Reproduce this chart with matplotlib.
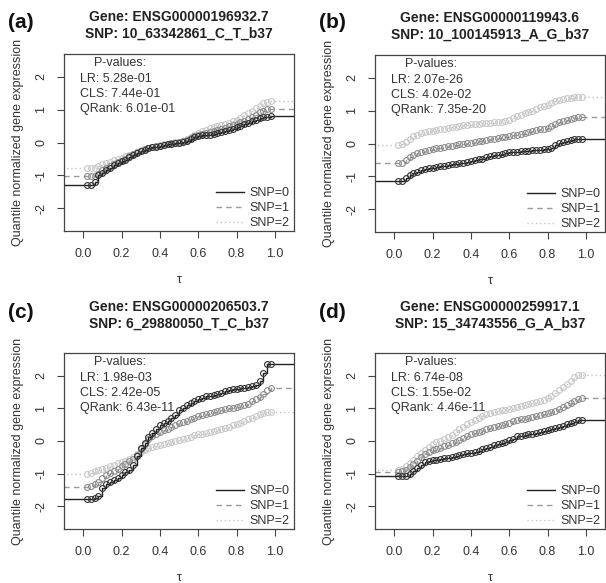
import numpy as np
import matplotlib
matplotlib.use('Agg')
import matplotlib.pyplot as plt

plt.rcParams['font.family'] = ['Liberation Sans', 'DejaVu Sans']

# quantile levels
taus = np.round(np.arange(0.02, 0.981, 0.02), 2)

# panel titles / p-values
panel_tags = ['(a)', '(b)', '(c)', '(d)']
genes = ['ENSG00000196932.7', 'ENSG00000119943.6', 'ENSG00000206503.7', 'ENSG00000259917.1']
snps = ['10_63342861_C_T_b37', '10_100145913_A_G_b37', '6_29880050_T_C_b37', '15_34743556_G_A_b37']
pv_lr = ['5.28e-01', '2.07e-26', '1.98e-03', '6.74e-08']
pv_cls = ['7.44e-01', '4.02e-02', '2.42e-05', '1.55e-02']
pv_qrank = ['6.01e-01', '7.35e-20', '6.43e-11', '4.46e-11']

# (a)
a_snp0 = [-1.29, -1.29, -1.20, -1.00, -0.93, -0.85, -0.78, -0.70, -0.63, -0.57,
          -0.52, -0.45, -0.38, -0.32, -0.27, -0.22, -0.18, -0.15, -0.13, -0.10,
          -0.08, -0.06, -0.04, -0.02, 0.00, 0.02, 0.05, 0.12, 0.18, 0.21,
          0.22, 0.23, 0.24, 0.26, 0.28, 0.31, 0.35, 0.38, 0.42, 0.46,
          0.50, 0.55, 0.60, 0.65, 0.70, 0.74, 0.77, 0.79, 0.80]
a_snp1 = [-1.03, -1.03, -1.02, -0.95, -0.85, -0.79, -0.72, -0.66, -0.60, -0.55,
          -0.49, -0.42, -0.36, -0.30, -0.25, -0.21, -0.17, -0.14, -0.12, -0.10,
          -0.07, -0.05, -0.03, 0.00, 0.02, 0.05, 0.09, 0.14, 0.20, 0.24,
          0.27, 0.30, 0.33, 0.36, 0.39, 0.42, 0.45, 0.49, 0.53, 0.57,
          0.62, 0.67, 0.73, 0.79, 0.85, 0.92, 0.97, 1.01, 1.03]
a_snp2 = [-0.78, -0.78, -0.77, -0.72, -0.67, -0.62, -0.58, -0.54, -0.50, -0.46,
          -0.42, -0.38, -0.34, -0.29, -0.24, -0.20, -0.17, -0.14, -0.12, -0.09,
          -0.06, -0.04, -0.02, 0.01, 0.03, 0.06, 0.10, 0.16, 0.22, 0.28,
          0.34, 0.39, 0.43, 0.47, 0.50, 0.53, 0.56, 0.60, 0.65, 0.70,
          0.76, 0.83, 0.90, 0.97, 1.04, 1.12, 1.19, 1.24, 1.27]

# (b)
b_snp0 = [-1.14, -1.14, -1.05, -0.97, -0.90, -0.86, -0.82, -0.79, -0.76, -0.74,
          -0.72, -0.70, -0.68, -0.66, -0.64, -0.62, -0.60, -0.58, -0.55, -0.52,
          -0.50, -0.48, -0.46, -0.42, -0.38, -0.36, -0.34, -0.31, -0.28, -0.27,
          -0.26, -0.25, -0.24, -0.23, -0.22, -0.21, -0.20, -0.19, -0.18, -0.17,
          -0.14, -0.06, 0.01, 0.04, 0.07, 0.10, 0.13, 0.14, 0.15]
b_snp1 = [-0.60, -0.58, -0.50, -0.42, -0.35, -0.30, -0.26, -0.22, -0.19, -0.17,
          -0.15, -0.13, -0.11, -0.09, -0.07, -0.05, -0.03, -0.01, 0.01, 0.03,
          0.05, 0.07, 0.09, 0.11, 0.13, 0.15, 0.17, 0.19, 0.21, 0.23,
          0.25, 0.27, 0.29, 0.31, 0.34, 0.37, 0.40, 0.43, 0.45, 0.47,
          0.52, 0.60, 0.65, 0.69, 0.73, 0.76, 0.78, 0.80, 0.80]
b_snp2 = [-0.05, -0.02, 0.06, 0.14, 0.22, 0.27, 0.31, 0.34, 0.37, 0.39,
          0.41, 0.43, 0.45, 0.47, 0.49, 0.51, 0.53, 0.55, 0.57, 0.58,
          0.60, 0.61, 0.62, 0.63, 0.64, 0.65, 0.66, 0.67, 0.69, 0.72,
          0.77, 0.83, 0.88, 0.92, 0.96, 1.00, 1.05, 1.10, 1.14, 1.18,
          1.23, 1.30, 1.34, 1.36, 1.38, 1.40, 1.41, 1.42, 1.42]

# (c)
c_snp0 = [-1.79, -1.79, -1.75, -1.68, -1.45, -1.32, -1.25, -1.20, -1.12, -1.03,
          -0.96, -0.88, -0.75, -0.45, -0.22, -0.05, 0.12, 0.25, 0.38, 0.48,
          0.55, 0.62, 0.70, 0.80, 0.94, 1.02, 1.10, 1.17, 1.22, 1.28,
          1.33, 1.37, 1.39, 1.42, 1.44, 1.47, 1.52, 1.56, 1.59, 1.61,
          1.62, 1.63, 1.65, 1.68, 1.72, 1.85, 2.10, 2.35, 2.35]
c_snp1 = [-1.41, -1.38, -1.32, -1.25, -1.15, -1.05, -0.98, -0.92, -0.85, -0.78,
          -0.70, -0.62, -0.54, -0.42, -0.25, -0.08, 0.05, 0.14, 0.22, 0.28,
          0.33, 0.38, 0.43, 0.49, 0.54, 0.58, 0.62, 0.67, 0.72, 0.76,
          0.79, 0.82, 0.86, 0.90, 0.93, 0.96, 0.98, 1.00, 1.02, 1.04,
          1.07, 1.10, 1.15, 1.22, 1.28, 1.35, 1.45, 1.58, 1.63]
c_snp2 = [-1.02, -0.98, -0.93, -0.89, -0.86, -0.82, -0.78, -0.74, -0.69, -0.64,
          -0.60, -0.54, -0.48, -0.40, -0.33, -0.28, -0.23, -0.19, -0.16, -0.13,
          -0.10, -0.07, -0.04, -0.01, 0.02, 0.05, 0.09, 0.13, 0.17, 0.20,
          0.23, 0.26, 0.29, 0.32, 0.34, 0.37, 0.40, 0.44, 0.48, 0.51,
          0.55, 0.60, 0.66, 0.72, 0.77, 0.82, 0.86, 0.89, 0.90]

# (d)
d_snp0 = [-1.07, -1.08, -1.06, -1.00, -0.92, -0.84, -0.74, -0.65, -0.61, -0.59,
          -0.57, -0.55, -0.53, -0.51, -0.48, -0.46, -0.43, -0.41, -0.38, -0.36,
          -0.33, -0.30, -0.26, -0.21, -0.17, -0.13, -0.09, -0.05, -0.02, 0.02,
          0.07, 0.14, 0.16, 0.18, 0.20, 0.22, 0.25, 0.28, 0.31, 0.34,
          0.37, 0.40, 0.44, 0.47, 0.51, 0.55, 0.59, 0.63, 0.65]
d_snp1 = [-0.95, -0.93, -0.88, -0.80, -0.72, -0.62, -0.50, -0.40, -0.33, -0.28,
          -0.24, -0.20, -0.16, -0.12, -0.07, -0.02, 0.04, 0.10, 0.15, 0.20,
          0.24, 0.28, 0.32, 0.36, 0.39, 0.42, 0.45, 0.48, 0.52, 0.56,
          0.60, 0.64, 0.67, 0.69, 0.71, 0.73, 0.76, 0.79, 0.82, 0.85,
          0.89, 0.93, 0.98, 1.04, 1.10, 1.17, 1.24, 1.30, 1.33]
d_snp2 = [-0.88, -0.85, -0.78, -0.68, -0.58, -0.47, -0.37, -0.27, -0.18, -0.10,
          -0.04, 0.01, 0.06, 0.11, 0.19, 0.28, 0.36, 0.44, 0.52, 0.58,
          0.64, 0.70, 0.76, 0.82, 0.86, 0.89, 0.92, 0.94, 0.96, 0.99,
          1.02, 1.05, 1.08, 1.11, 1.14, 1.17, 1.20, 1.23, 1.27, 1.31,
          1.38, 1.48, 1.57, 1.66, 1.75, 1.85, 1.95, 2.02, 2.04]

series = [
    (a_snp0, a_snp1, a_snp2),
    (b_snp0, b_snp1, b_snp2),
    (c_snp0, c_snp1, c_snp2),
    (d_snp0, d_snp1, d_snp2),
]

snp_labels = ['SNP=0', 'SNP=1', 'SNP=2']
line_colors = ['#222222', '#999999', '#c4c4c4']
marker_colors = ['#333333', '#8c8c8c', '#c8c8c8']
line_styles = ['-', (0, (4, 3)), (0, (1, 2))]

W, H = 606, 583
fig = plt.figure(figsize=(W / 100, H / 100), dpi=100)

# axes boxes in pixels: left, top, height, title pad
boxes = [(64, 54, 177, 12), (375, 55, 177, 12), (64, 353, 176, 18), (375, 353, 176, 18)]
bw = 230

axis_col = '#444444'
text_col = '#333333'

for i in range(4):
    left, top, bh, tpad = boxes[i]
    ax = fig.add_axes([left / W, 1 - (top + bh) / H, bw / W, bh / H])
    xl = (-0.1, 1.1)
    for k in [2, 1, 0]:
        vals = series[i][k]
        xs = np.concatenate([[xl[0] - 0.05], taus, [xl[1] + 0.05]])
        ys = np.concatenate([[vals[0]], vals, [vals[-1]]])
        ax.plot(xs, ys, drawstyle='steps-post', color=line_colors[k],
                linestyle=line_styles[k], lw=1.0, label=snp_labels[k])
        ax.plot(taus, vals, 'o', mfc='none', mec=marker_colors[k], ms=4.2, mew=0.8)
    ax.set_xlim(*xl)
    ax.set_ylim(-2.7, 2.7)
    ax.set_xticks([0.0, 0.2, 0.4, 0.6, 0.8, 1.0])
    ax.set_xticklabels(['0.0', '0.2', '0.4', '0.6', '0.8', '1.0'])
    ax.set_yticks([-2, -1, 0, 1, 2])
    ax.set_yticklabels(['-2', '-1', '0', '1', '2'], rotation=90, va='center')
    ax.tick_params(direction='out', length=5, width=0.8, color=axis_col,
                   labelcolor=text_col, labelsize=9, pad=7)
    for s in ax.spines.values():
        s.set_color(axis_col)
        s.set_linewidth(0.9)
    ax.set_xlabel('τ', fontsize=9, color=text_col, labelpad=10)
    ax.set_ylabel('Quantile normalized gene expression', fontsize=9,
                  color=text_col, labelpad=8)
    ax.set_title('Gene: ' + genes[i] + '\nSNP: ' + snps[i], fontsize=10,
                 fontweight='bold', color='#222222', pad=tpad, linespacing=1.25)

    ax.text(0.245, 0.95, 'P-values:', transform=ax.transAxes, ha='center',
            va='center', fontsize=9, color=text_col)
    ax.text(0.07, 0.86, 'LR: ' + pv_lr[i], transform=ax.transAxes, ha='left',
            va='center', fontsize=9, color=text_col)
    ax.text(0.07, 0.775, 'CLS: ' + pv_cls[i], transform=ax.transAxes, ha='left',
            va='center', fontsize=9, color=text_col)
    ax.text(0.07, 0.69, 'QRank: ' + pv_qrank[i], transform=ax.transAxes, ha='left',
            va='center', fontsize=9, color=text_col)

    handles, labels = ax.get_legend_handles_labels()
    order = [labels.index(l) for l in snp_labels]
    leg = ax.legend([handles[j] for j in order], snp_labels, loc='lower right',
                    bbox_to_anchor=(1.02, -0.04), frameon=False, fontsize=9,
                    handlelength=2.2, handletextpad=0.5, labelspacing=0.25,
                    borderaxespad=0.3)
    for t in leg.get_texts():
        t.set_color(text_col)

    fig.text((left - 56) / W, 1 - (top - 32 - (tpad - 12) * 1.4) / H, panel_tags[i],
             fontsize=15, fontweight='bold', ha='left', va='center', color='#111111')

fig.savefig('out.png', dpi=100)
